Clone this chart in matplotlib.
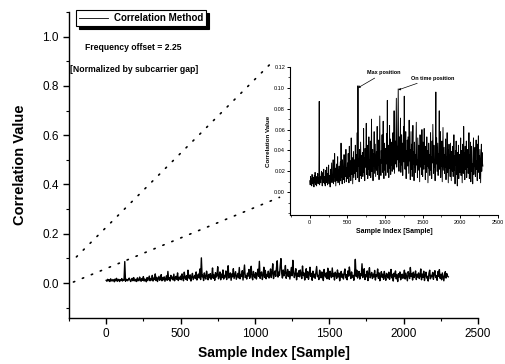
import matplotlib
matplotlib.use("Agg")
import matplotlib.pyplot as plt
import numpy as np
from matplotlib.patches import ConnectionPatch
from matplotlib.ticker import MultipleLocator

plt.rcParams['font.family'] = ['Liberation Sans', 'DejaVu Sans']

# Sample index step between read-off values
sample_step = 5
corr_values = [
    .011, .007, .015, .009, .013, .006, .017, .010, .008, .014, .012, .005, .016, .009, .019, .007, .012, .015, .006, .013,
    .010, .018, .008, .014, .011, .087, .007, .015, .013, .009, .016, .020, .012, .006, .014, .019, .009, .022, .011, .008,
    .015, .006, .021, .012, .009, .024, .014, .007, .018, .011, .026, .008, .016, .013, .005, .022, .010, .019, .028, .009,
    .017, .012, .031, .008, .020, .014, .037, .010, .023, .006, .016, .027, .011, .019, .034, .009, .021, .013, .025, .007,
    .018, .029, .011, .047, .014, .022, .008, .031, .017, .024, .012, .036, .009, .020, .027, .015, .041, .010, .023, .016,
    .028, .013, .037, .019, .009, .044, .021, .015, .030, .011, .052, .024, .017, .033, .008, .026, .039, .014, .022, .031,
    .018, .045, .012, .027, .036, .020, .057, .014, .102, .025, .032, .010, .041, .022, .016, .048, .029, .013, .035, .021,
    .038, .015, .026, .061, .019, .033, .011, .042, .024, .030, .066, .017, .028, .045, .013, .036, .022, .053, .016, .031,
    .024, .049, .014, .034, .070, .020, .029, .041, .011, .037, .025, .058, .018, .032, .046, .015, .027, .039, .021, .063,
    .017, .035, .026, .050, .012, .044, .073, .022, .031, .016, .040, .028, .055, .019, .036, .068, .024, .013, .047, .030,
    .021, .042, .016, .033, .056, .027, .088, .019, .038, .045, .014, .030, .064, .023, .051, .017, .035, .026, .048, .020,
    .033, .057, .022, .041, .078, .018, .036, .049, .027, .062, .090, .024, .044, .031, .070, .099, .039, .020, .053, .029,
    .042, .071, .019, .034, .055, .026, .047, .016, .038, .063, .029, .092, .045, .022, .036, .058, .013, .040, .027, .050,
    .025, .053, .034, .018, .069, .030, .041, .012, .037, .058, .022, .046, .015, .033, .064, .027, .039, .011, .048, .024,
    .036, .019, .043, .067, .026, .031, .014, .052, .038, .021, .045, .029, .010, .055, .033, .024, .041, .017, .060, .028,
    .015, .048, .032, .022, .061, .027, .039, .012, .044, .035, .019, .053, .025, .040, .009, .031, .047, .023, .036, .016,
    .042, .057, .021, .034, .013, .049, .028, .065, .038, .018, .045, .024, .031, .011, .040, .096, .027, .052, .020, .035,
    .047, .016, .037, .029, .078, .022, .044, .058, .014, .033, .025, .049, .010, .039, .062, .021, .031, .043, .018, .036,
    .024, .051, .012, .034, .028, .057, .019, .041, .009, .030, .046, .023, .036, .015, .047, .027, .011, .039, .032, .020,
    .044, .015, .029, .055, .021, .035, .008, .040, .026, .049, .017, .033, .006, .038, .024, .045, .013, .029, .036, .019,
    .031, .052, .016, .040, .025, .009, .046, .034, .018, .063, .027, .038, .012, .044, .022, .030, .049, .014, .035, .024,
    .041, .018, .029, .057, .013, .036, .023, .048, .010, .032, .044, .020, .027, .008, .039, .052, .017, .031, .025, .043,
    .015, .037, .050, .022, .030, .011, .046, .027, .054, .019, .035, .013, .041, .024, .009, .033, .046, .020, .038, .028,
    .025,
]
sample_index = np.arange(len(corr_values)) * sample_step

series_label = "Correlation Method"
note_line1 = "Frequency offset = 2.25"
note_line2 = "[Normalized by subcarrier gap]"
main_xticks = [0, 500, 1000, 1500, 2000, 2500]
main_yticks = [0.0, 0.2, 0.4, 0.6, 0.8, 1.0]
inset_yticks = [0.00, 0.02, 0.04, 0.06, 0.08, 0.10, 0.12]

fig = plt.figure(figsize=(5.05, 3.64), dpi=100)
ax = fig.add_axes([0.1366, 0.1264, 0.81, 0.8407])
ax.plot(sample_index, corr_values, color='black', lw=1.0, label=series_label)
ax.set_xlim(-250, 2500)
ax.set_ylim(-0.142, 1.10)
ax.set_xticks(main_xticks)
ax.set_yticks(main_yticks)
ax.set_yticklabels([f"{v:.1f}" for v in main_yticks])
ax.xaxis.set_minor_locator(MultipleLocator(250))
ax.yaxis.set_minor_locator(MultipleLocator(0.1))
for s in ['top', 'right']:
    ax.spines[s].set_visible(False)
for s in ['left', 'bottom']:
    ax.spines[s].set_linewidth(1.0)
ax.tick_params(which='major', direction='out', length=4, width=1, labelsize=8.5)
ax.tick_params(which='minor', direction='out', length=2.5, width=0.8)
ax.set_xlabel("Sample Index [Sample]", fontsize=10, fontweight='bold', labelpad=4)
ax.set_ylabel("Correlation Value", fontsize=10.5, fontweight='bold', labelpad=11)

leg = ax.legend(loc='upper left', bbox_to_anchor=(0.018, 1.005), fontsize=7,
                frameon=True, fancybox=False, shadow={'color': 'black', 'alpha': 1},
                handlelength=3.0, borderpad=0.3, handletextpad=0.6, borderaxespad=0)
leg.get_frame().set_edgecolor('black')
leg.get_frame().set_linewidth(0.8)
for t in leg.get_texts():
    t.set_fontweight('bold')
for h in leg.get_lines():
    h.set_linewidth(0.6)

fig.text(133/505, 1 - 47/364, note_line1, ha='center', va='center',
         fontsize=6.2, fontweight='bold')
fig.text(134/505, 1 - 69/364, note_line2, ha='center', va='center',
         fontsize=6.2, fontweight='bold')

# Inset
ins = fig.add_axes([0.574, 0.409, 0.412, 0.407])
ins.plot(sample_index, corr_values, color='black', lw=0.65)
ins.set_xlim(-265, 2500)
ins.set_ylim(-0.022, 0.12)
ins.set_xticks(main_xticks)
ins.set_yticks(inset_yticks)
ins.set_yticklabels([f"{v:.2f}" for v in inset_yticks])
ins.xaxis.set_minor_locator(MultipleLocator(250))
ins.yaxis.set_minor_locator(MultipleLocator(0.01))
for s in ['top', 'right']:
    ins.spines[s].set_visible(False)
ins.tick_params(which='major', direction='out', length=2, width=0.7, labelsize=4, pad=1.5)
ins.tick_params(which='minor', direction='out', length=1.2, width=0.5)
ins.patch.set_alpha(0)
ins.set_xlabel("Sample Index [Sample]", fontsize=5, fontweight='bold', labelpad=2)
ins.set_ylabel("Correlation Value", fontsize=4.5, fontweight='bold', labelpad=2)
ins.annotate("Max position", xy=(640, 0.100), xytext=(760, 0.112),
             fontsize=4, fontweight='bold', va='bottom', ha='left',
             arrowprops=dict(arrowstyle='-|>', color='black', lw=0.5,
                             mutation_scale=3, shrinkA=0, shrinkB=0))
ins.annotate("On time position", xy=(1175, 0.098), xytext=(1340, 0.107),
             fontsize=4, fontweight='bold', va='bottom', ha='left',
             arrowprops=dict(arrowstyle='-|>', color='black', lw=0.5,
                             mutation_scale=3, shrinkA=0, shrinkB=0))

# Zoom guide lines
for (xa, ya), (xb, yb) in [((-200, 0.106), (-0.087, 1.03)),
                           ((-220, 0.004), (-0.05, 0.12))]:
    cp = ConnectionPatch(xyA=(xa, ya), coordsA=ax.transData,
                         xyB=(xb, yb), coordsB=ins.transAxes,
                         color='black', lw=1.2, linestyle=(0, (0.8, 5)))
    fig.add_artist(cp)

fig.savefig("out.png", dpi=100)
